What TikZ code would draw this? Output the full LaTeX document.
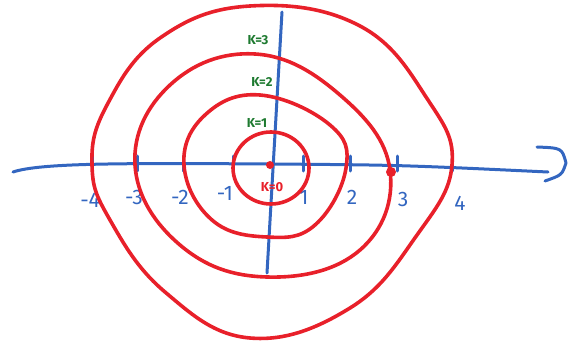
\documentclass[tikz,border=0pt]{standalone}
\usepackage{fontspec}
\setsansfont{Fira Sans}
\usetikzlibrary{positioning}
\definecolor{penred}{HTML}{E8202A}
\definecolor{penblue}{HTML}{3366C0}
\definecolor{pengreen}{HTML}{1E7A30}

\begin{document}
\begin{tikzpicture}[
    x=1pt, y=-1pt,
    redpen/.style={draw=penred, line width=3.6pt, line cap=round, line join=round},
    bluepen/.style={draw=penblue, line width=3pt, line cap=round, line join=round},
    ticklab/.style={text=penblue, font=\sffamily\fontsize{21}{22}\selectfont, inner sep=0pt},
    klab/.style={text=pengreen, font=\sffamily\bfseries\fontsize{13}{14}\selectfont, inner sep=0pt},
  ]
  \useasboundingbox (0,0) rectangle (572,345);

  % axes
  \coordinate (xl) at (13,172);
  \coordinate (xr) at (548,172);
  \coordinate (yt) at (282,12);
  \coordinate (yb) at (267,273);
  \draw[bluepen] (xl) .. controls (40,163) and (120,163) .. (270,164)
                      .. controls (400,165) .. (xr);
  \draw[bluepen] (yt) -- (yb);
  % arrow head
  \coordinate (arrA) at (537,147);
  \coordinate (arrT) at (566,163);
  \coordinate (arrB) at (545,181);
  \draw[bluepen] (arrA) .. controls (562,148) .. (arrT) .. controls (562,175) .. (arrB);

  % ticks and numbers
  \foreach \x/\lab/\lx/\ly in {92/-4/90/200, 137/-3/134/197, 183/-2/180/197, 233/-1/225/193,
                               303/1/304/197, 350/2/352/197, 397/3/403/199, 452/4/460/203} {
    \draw[bluepen] (\x,156) -- (\x,171);
    \node[ticklab] (n\lab) at (\lx,\ly) {\lab};
  }

  % level curves
  \draw[redpen] plot[smooth cycle, tension=0.7] coordinates {
    (250,6) (360,26) (428,100) (452,165) (417,235) (350,308) (250,338)
    (165,292) (110,220) (92,165) (107,105) (160,38)};
  \draw[redpen] plot[smooth cycle, tension=0.7] coordinates {
    (255,54) (340,95) (390,170) (360,250) (267,277) (180,245) (135,165) (170,85)};
  \draw[redpen] plot[smooth cycle, tension=0.7] coordinates {
    (260,95) (330,125) (346,168) (315,225) (267,237) (212,220) (184,165) (205,115)};
  \draw[redpen] (271,168) ellipse [x radius=38, y radius=36];
  \fill[penred] (270,165) circle (4);
  \fill[penred] (391,172) circle (5);

  % labels
  \node[klab] (k3) at (258,40) {K=3};
  \node[klab] (k2) at (262,82) {K=2};
  \node[klab] (k1) at (257,123) {K=1};
  \node[klab, text=penred] (k0) at (272,187) {K=0};
\end{tikzpicture}
\end{document}
